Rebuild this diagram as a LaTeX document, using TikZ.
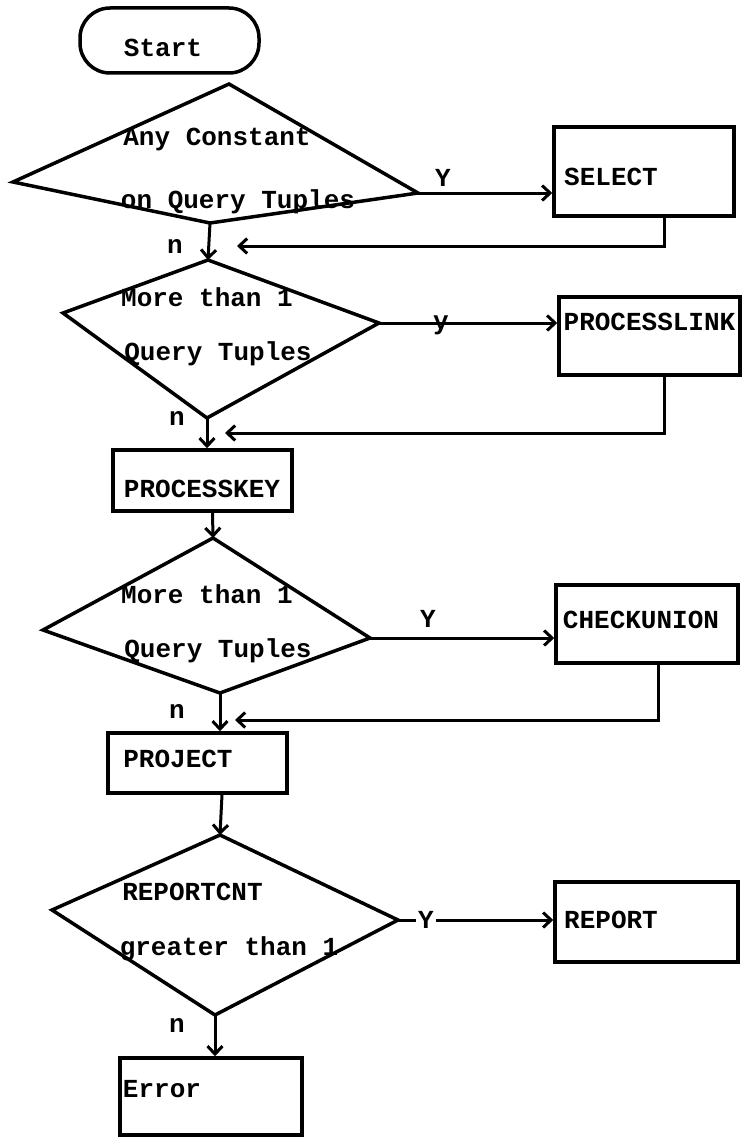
\documentclass[tikz,border=0pt]{standalone}
\usepackage{fontspec}
\setmainfont{Liberation Mono}
\usetikzlibrary{arrows.meta,calc}
\begin{document}
\begin{tikzpicture}[x=1pt,y=-1pt,
  txt/.style={font=\fontsize{26}{30}\selectfont\bfseries, inner sep=0pt, anchor=base},
  shp/.style={draw, line width=3.5pt, line join=miter},
  box/.style={draw, line width=3.5pt, inner sep=0pt},
  arr/.style={line width=3pt, -{Straight Barb[length=8pt,width=15pt,line width=3pt]}},
  ln/.style={line width=3pt}]
\useasboundingbox (0,0) rectangle (743,1137);

% Start
\node[box, rounded corners=30pt, minimum width=179pt, minimum height=65pt] (start) at (169.5,40.5) {};
\node[txt] (startT) at (163,57) {Start};

% Diamond 1
\coordinate (D1t) at (229,84);
\coordinate (D1r) at (418,193);
\coordinate (D1b) at (210,223);
\coordinate (D1l) at (13,182);
\draw[shp] (D1t) -- (D1r) -- (D1b) -- (D1l) -- cycle;
\node[txt] (d1a) at (217,146) {Any Constant};
\node[txt] (d1b) at (238,208) {on Query Tuples};

% SELECT
\node[box, minimum width=180pt, minimum height=89pt] (select) at (644,171.5) {};
\node[txt] (selectT) at (611,185) {SELECT};
\draw[arr] (D1r) -- (D1r -| select.west);
\node[txt] (y1) at (443,186) {Y};
\node[txt] (n1) at (175,253) {n};
\coordinate (R1) at (237,246);
\draw[arr] ([xshift=20pt]select.south) |- (R1);

% Diamond 2
\coordinate (D2t) at (208,260);
\coordinate (D2r) at (379,323);
\coordinate (D2b) at (207,418);
\coordinate (D2l) at (63,313);
\draw[shp] (D2t) -- (D2r) -- (D2b) -- (D2l) -- cycle;
\node[txt] (d2a) at (207,306) {More than 1};
\node[txt] (d2b) at (218,360) {Query Tuples};
\draw[arr] (D1b) -- (D2t);

% PROCESSLINK
\node[box, minimum width=181pt, minimum height=78pt] (plink) at (649.5,336) {};
\node[txt] (plinkT) at (649.5,330) {PROCESSLINK};
\draw[arr] (D2r) -- (D2r -| plink.west);
\node[txt] (y2) at (441,329) {y};
\coordinate (R2) at (225,433);
\draw[arr] ([xshift=14.5pt]plink.south) |- (R2);

% PROCESSKEY
\node[box, minimum width=179pt, minimum height=61pt] (pkey) at (202.5,480.5) {};
\node[txt] (pkeyT) at (202,497) {PROCESSKEY};
\node[txt] (n2) at (177,425) {n};
\draw[arr] (D2b) -- (D2b |- pkey.north);

% Diamond 3
\coordinate (D3t) at (213,538);
\coordinate (D3r) at (370,638);
\coordinate (D3b) at (220,693);
\coordinate (D3l) at (43,630);
\draw[shp] (D3t) -- (D3r) -- (D3b) -- (D3l) -- cycle;
\node[txt] (d3a) at (207,603) {More than 1};
\node[txt] (d3b) at (218,657) {Query Tuples};
\draw[arr] ([xshift=10pt]pkey.south) -- (D3t);

% CHECKUNION
\node[box, minimum width=182pt, minimum height=78pt] (check) at (647,624) {};
\node[txt] (checkT) at (641,628) {CHECKUNION};
\draw[arr] (D3r) -- (D3r -| check.west);
\node[txt] (y3) at (428,627) {Y};
\coordinate (R3) at (235,720);
\draw[arr] ([xshift=11pt]check.south) |- (R3);

% PROJECT
\node[box, minimum width=179pt, minimum height=60pt] (project) at (197.5,763) {};
\node[txt] (projectT) at (178,767) {PROJECT};
\node[txt] (n3) at (177,718) {n};
\draw[arr] (D3b) -- (D3b |- project.north);

% Diamond 4
\coordinate (D4t) at (220,835);
\coordinate (D4r) at (398,920);
\coordinate (D4b) at (215,1015);
\coordinate (D4l) at (52,910);
\draw[shp] (D4t) -- (D4r) -- (D4b) -- (D4l) -- cycle;
\node[txt] (d4a) at (192.5,900) {REPORTCNT};
\node[txt] (d4b) at (229,955) {greater than 1};
\draw[arr] ([xshift=24.5pt]project.south) -- (D4t);

% REPORT
\node[box, minimum width=183pt, minimum height=80pt] (report) at (646.5,922) {};
\node[txt] (reportT) at (611,928) {REPORT};
\draw[arr] (D4r) -- (D4r -| report.west);
\node[txt, fill=white, inner xsep=2pt] (y4) at (426,928) {Y};

% Error
\node[box, minimum width=182pt, minimum height=77pt] (error) at (211,1096.5) {};
\node[txt] (errorT) at (162,1097) {Error};
\node[txt] (n4) at (177,1032) {n};
\draw[arr] (D4b) -- (D4b |- error.north);
\end{tikzpicture}
\end{document}
